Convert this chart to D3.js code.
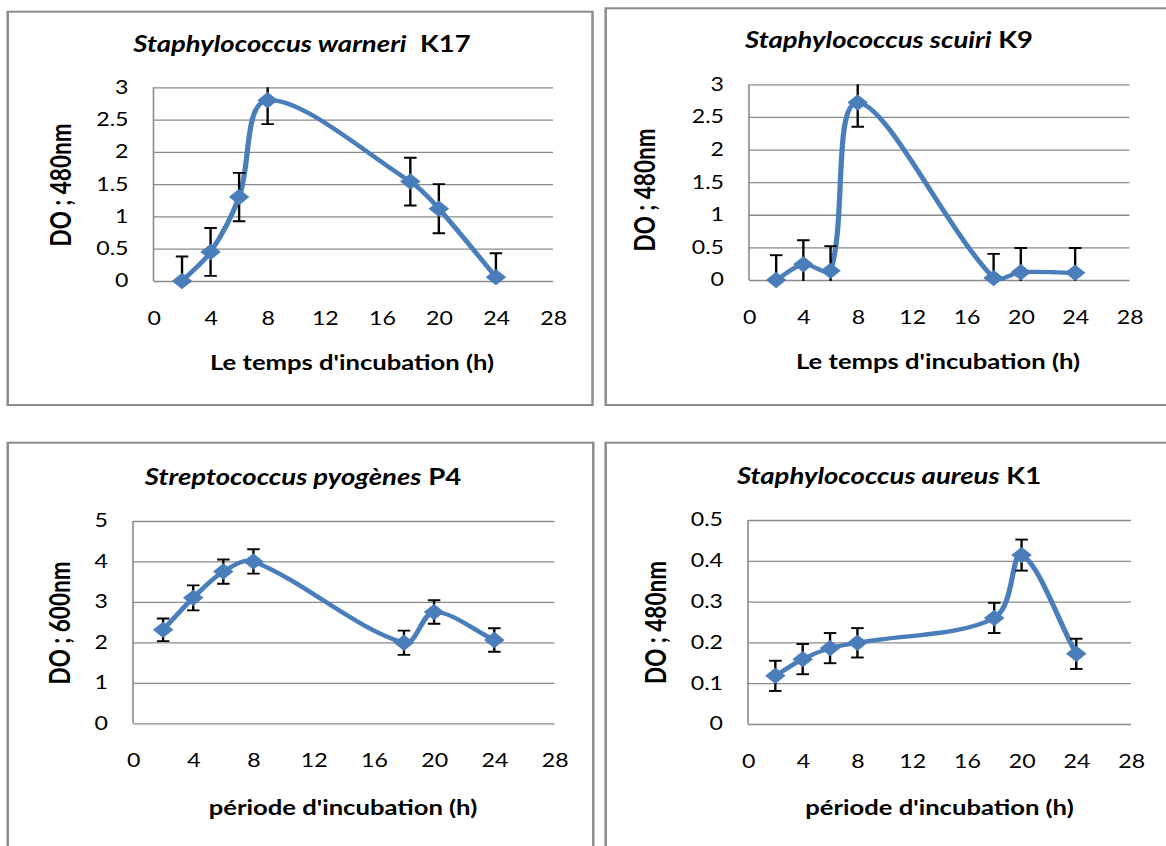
<!DOCTYPE html>
<html>
<head>
<meta charset="utf-8">
<script src="https://cdn.jsdelivr.net/npm/d3@7"></script>
<style>
  html, body { margin: 0; padding: 0; background: #fff; }
  svg { display: block; }
  text { font-family: Lato, "Open Sans", sans-serif; fill: #000; }
</style>
</head>
<body>
<svg id="chart" width="1166" height="846"></svg>
<script>
// Sampling times (hours)
const hours = [2, 4, 6, 8, 18, 20, 24];

// Optical density means and error-bar half widths per strain
const warneriK17    = [0, 0.45, 1.30, 2.80, 1.54, 1.12, 0.06];
const warneriK17Err = [0.38, 0.37, 0.375, 0.37, 0.37, 0.38, 0.37];

const scuiriK9      = [0, 0.24, 0.14, 2.72, 0.03, 0.12, 0.11];
const scuiriK9Err   = [0.38, 0.37, 0.38, 0.37, 0.37, 0.37, 0.38];

const pyogenesP4    = [2.31, 3.10, 3.75, 4.00, 1.99, 2.75, 2.06];
const pyogenesP4Err = [0.28, 0.31, 0.30, 0.30, 0.30, 0.29, 0.29];

const aureusK1      = [0.118, 0.159, 0.186, 0.199, 0.260, 0.414, 0.172];
const aureusK1Err   = [0.037, 0.037, 0.037, 0.036, 0.037, 0.038, 0.037];

// Axis tick labels
const xTicks      = [0, 4, 8, 12, 16, 20, 24, 28];
const yTicks3     = [0, 0.5, 1, 1.5, 2, 2.5, 3];
const yTicks5     = [0, 1, 2, 3, 4, 5];
const yTicksHalf  = [0, 0.1, 0.2, 0.3, 0.4, 0.5];

// Titles
const speciesNames = ["Staphylococcus warneri", "Staphylococcus scuiri", "Streptococcus pyogènes", "Staphylococcus aureus"];
const strainNames  = ["K17", "K9", "P4", "K1"];
const yTitles      = ["DO ; 480nm", "DO ; 480nm", "DO ; 600nm", "DO ; 480nm"];
const xTitles      = ["Le temps d'incubation (h)", "Le temps d'incubation (h)", "période d'incubation (h)", "période d'incubation (h)"];

// The figure is drawn in a horizontally widened frame
const SX = 1.25;
const BLUE = "#4a7ebb";
const GRID = "#8a8a8a";

// Panel geometry in page pixels
const layout = [
  { box: [7.7, 11.7, 592.5, 405], plot: [153.5, 87.3, 553, 281], title: [302, 52], yTitle: [61, 185], xTitle: [352, 370], gap: "  " },
  { box: [605.7, 8.3, 1200, 405], plot: [749, 84.3, 1129.5, 280], title: [889, 48.3], yTitle: [645, 190], xTitle: [938, 369], gap: " " },
  { box: [7.7, 442.7, 593.3, 900], plot: [133, 521, 554.5, 723.3], title: [303, 485], yTitle: [60, 623], xTitle: [343, 815], gap: " " },
  { box: [605.7, 442.7, 1200, 900], plot: [748, 520, 1131, 724], title: [889, 484], yTitle: [656, 622.5], xTitle: [939.5, 815], gap: " " }
];

const series = [
  { values: warneriK17, errors: warneriK17Err, yTicks: yTicks3 },
  { values: scuiriK9,   errors: scuiriK9Err,   yTicks: yTicks3 },
  { values: pyogenesP4, errors: pyogenesP4Err, yTicks: yTicks5 },
  { values: aureusK1,   errors: aureusK1Err,   yTicks: yTicksHalf }
];

// Smoothed path through points: cubic segments whose tangents are
// weighted by the lengths of the neighbouring chords.
function smoothPath(P) {
  const p = d3.path();
  const n = P.length;
  const len = (a, b) => Math.hypot(b[0] - a[0], b[1] - a[1]);
  p.moveTo(P[0][0], P[0][1]);
  for (let i = 0; i < n - 1; i++) {
    const a = P[i], b = P[i + 1];
    const prev = i > 0 ? P[i - 1] : a;
    const next = i + 2 < n ? P[i + 2] : b;
    const Lp = len(prev, a), L = len(a, b), Ln = len(b, next);
    const k1 = L / (3 * (Lp + L));
    const k2 = L / (3 * (L + Ln));
    const c1 = [a[0] + (b[0] - prev[0]) * k1, a[1] + (b[1] - prev[1]) * k1];
    const c2 = [b[0] - (next[0] - a[0]) * k2, b[1] - (next[1] - a[1]) * k2];
    p.bezierCurveTo(c1[0], c1[1], c2[0], c2[1], b[0], b[1]);
  }
  return p.toString();
}

const svg = d3.select("#chart");
const defs = svg.append("defs");
const frames = svg.append("g").attr("transform", `scale(${SX},1)`);
const axesLayer = svg.append("g").attr("transform", `scale(${SX},1)`);
const dataLayer = svg.append("g");
const markLayer = svg.append("g").attr("transform", `scale(${SX},1)`);

series.forEach((s, i) => {
  const L = layout[i];
  const [bx0, by0, bx1, by1] = L.box;
  const [px0, py0, px1, py1] = L.plot;

  // panel frame
  frames.append("rect")
    .attr("x", bx0 / SX).attr("y", by0)
    .attr("width", (bx1 - bx0) / SX).attr("height", by1 - by0)
    .attr("fill", "#fff").attr("stroke", "#8c8c8c").attr("stroke-width", 2);

  const x = d3.scaleLinear().domain([0, 28]).range([px0 / SX, px1 / SX]);
  const yMax = s.yTicks[s.yTicks.length - 1];
  const y = d3.scaleLinear().domain([0, yMax]).range([py1, py0]);
  const w = x.range()[1] - x.range()[0];

  const g = axesLayer.append("g");

  // horizontal gridlines + value labels
  const yAxis = g.append("g")
    .attr("transform", `translate(${x(0)},0)`)
    .call(d3.axisLeft(y).tickValues(s.yTicks).tickFormat(d => String(d))
      .tickSize(-w).tickPadding(20));
  yAxis.select(".domain").remove();
  yAxis.selectAll(".tick line").attr("stroke", GRID).attr("stroke-width", 1.3);
  yAxis.selectAll(".tick text")
    .attr("font-size", 18.5).attr("font-family", "Lato, sans-serif").attr("fill", "#000");

  // left axis line
  g.append("line")
    .attr("x1", x(0)).attr("x2", x(0)).attr("y1", py0).attr("y2", py1)
    .attr("stroke", GRID).attr("stroke-width", 1.3);

  // hour labels
  const xAxis = g.append("g")
    .attr("transform", `translate(0,${py1})`)
    .call(d3.axisBottom(x).tickValues(xTicks).tickSize(0).tickPadding(31));
  xAxis.select(".domain").remove();
  xAxis.selectAll(".tick text")
    .attr("font-size", 18.5).attr("font-family", "Lato, sans-serif").attr("fill", "#000");

  // plot-area clip (page pixels)
  const clipId = "clip" + i;
  defs.append("clipPath").attr("id", clipId)
    .append("rect")
    .attr("x", px0 - 1).attr("y", py0).attr("width", px1 - px0 + 2).attr("height", py1 - py0 + 1);

  const pts = hours.map((h, k) => ({ h, v: s.values[k], e: s.errors[k] }));

  const inner = dataLayer.append("g").attr("clip-path", `url(#${clipId})`)
    .append("g").attr("transform", `scale(${SX},1)`);

  // smoothed line
  inner.append("path")
    .attr("d", smoothPath(pts.map(d => [x(d.h), y(d.v)])))
    .attr("fill", "none").attr("stroke", BLUE).attr("stroke-width", 4.2)
    .attr("stroke-linejoin", "round").attr("stroke-linecap", "round");

  // error bars
  const eb = inner.append("g").attr("stroke", "#000").attr("stroke-width", 1.9);
  pts.forEach(d => {
    const cx = x(d.h), yt = y(d.v + d.e), ybm = y(d.v - d.e);
    eb.append("line").attr("x1", cx).attr("x2", cx).attr("y1", yt).attr("y2", ybm);
    [yt, ybm].forEach(yy => {
      eb.append("line").attr("x1", cx - 5).attr("x2", cx + 5).attr("y1", yy).attr("y2", yy);
    });
  });

  // diamond markers
  const r = 7.5;
  const m = markLayer.append("g");
  m.selectAll("path")
    .data(pts).join("path")
    .attr("d", d => {
      const cx = x(d.h), cy = y(d.v);
      return `M${cx},${cy - r}L${cx + r},${cy}L${cx},${cy + r}L${cx - r},${cy}Z`;
    })
    .attr("fill", BLUE).attr("stroke", BLUE).attr("stroke-width", 1);

  // chart title
  const t = m.append("text")
    .attr("x", L.title[0] / SX).attr("y", L.title[1])
    .attr("text-anchor", "middle").attr("font-size", 22).attr("font-weight", "bold")
    .style("white-space", "pre");
  t.append("tspan").attr("font-style", "italic").text(speciesNames[i]);
  t.append("tspan").text(L.gap + strainNames[i]);

  // axis titles
  m.append("text")
    .attr("transform", `translate(${L.yTitle[0] / SX},${L.yTitle[1]}) rotate(-90)`)
    .attr("text-anchor", "middle").attr("dy", "0.35em")
    .attr("font-size", 22.5).attr("font-weight", "bold")
    .text(yTitles[i]);

  m.append("text")
    .attr("x", L.xTitle[0] / SX).attr("y", L.xTitle[1])
    .attr("text-anchor", "middle")
    .attr("font-size", 20.5).attr("font-weight", "bold")
    .text(xTitles[i]);
});
</script>
</body>
</html>
